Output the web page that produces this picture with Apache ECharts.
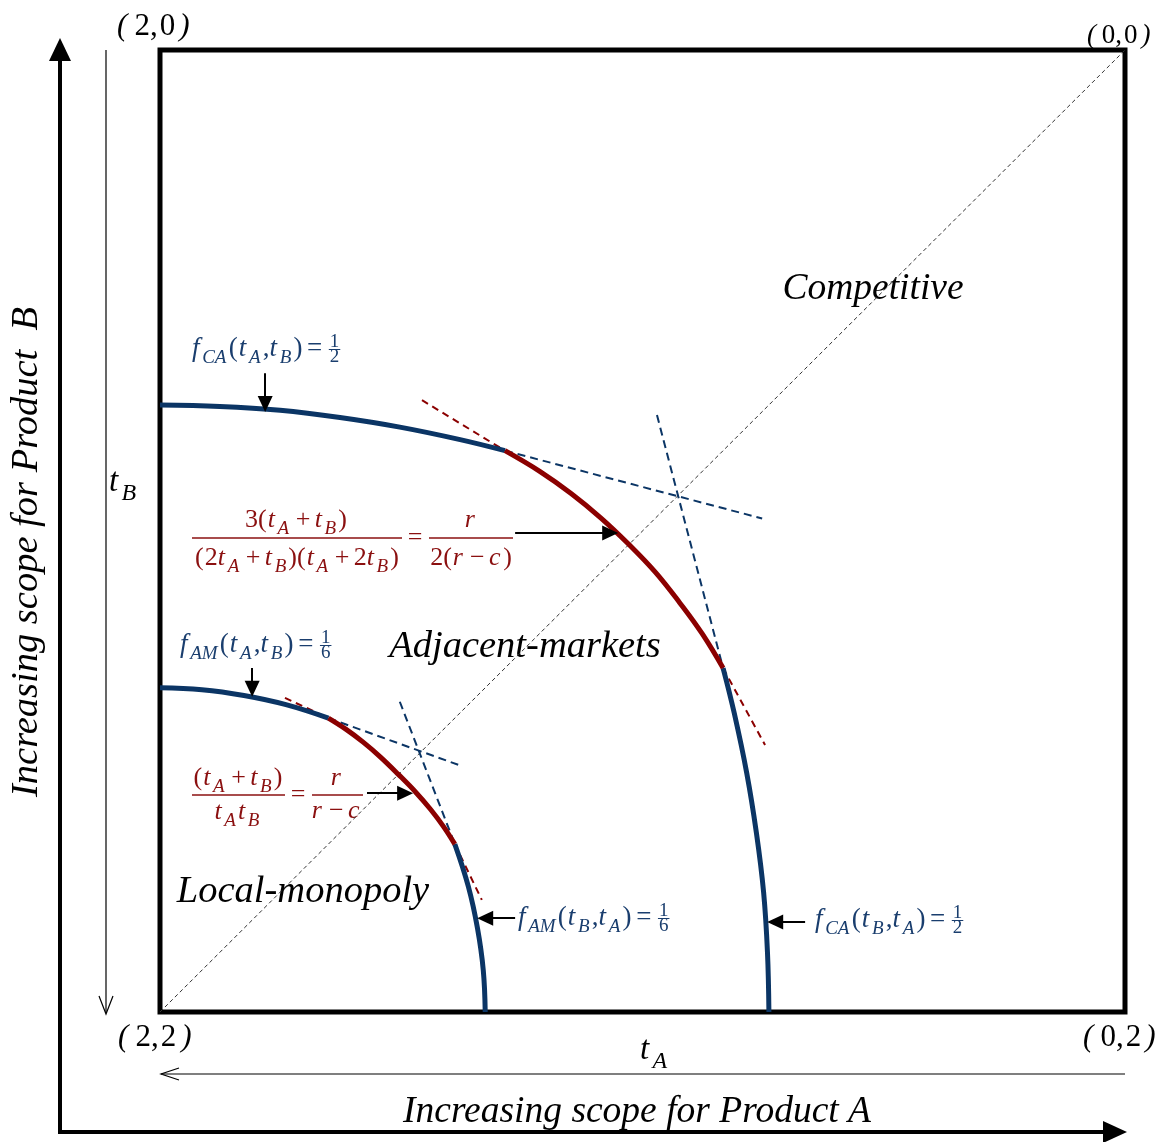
<!DOCTYPE html>
<html>
<head>
<meta charset="utf-8">
<script src="https://cdn.jsdelivr.net/npm/echarts@6/dist/echarts.min.js"></script>
<style>
  html, body { margin: 0; padding: 0; background: #fff; }
  #chart { width: 1171px; height: 1142px; }
</style>
</head>
<body>
<div id="chart"></div>
<script>
// curve points, in (tA, tB); tA runs 2 -> 0 left to right, tB 0 -> 2 top to bottom
var caUpperBlue = [[2.0, 0.738], [1.876, 0.741], [1.751, 0.749], [1.627, 0.764], [1.503, 0.784], [1.378, 0.810], [1.285, 0.833]];
var caRed = [[1.285, 0.833], [1.213, 0.876], [1.148, 0.922], [1.086, 0.973], [1.028, 1.028], [0.973, 1.086], [0.923, 1.149], [0.876, 1.214], [0.833, 1.285]];
var caLowerBlue = [[0.833, 1.285], [0.810, 1.378], [0.784, 1.503], [0.764, 1.627], [0.749, 1.751], [0.741, 1.876], [0.738, 2.0]];
var amUpperBlue = [[2.0, 1.326], [1.913, 1.330], [1.826, 1.342], [1.739, 1.361], [1.651, 1.389]];
var amRed = [[1.651, 1.389], [1.615, 1.412], [1.579, 1.439], [1.543, 1.470], [1.506, 1.506], [1.470, 1.543], [1.439, 1.579], [1.412, 1.615], [1.389, 1.651]];
var amLowerBlue = [[1.389, 1.651], [1.361, 1.739], [1.342, 1.826], [1.330, 1.913], [1.326, 2.0]];

// dashed tangents
var caRedDash = [[[1.457, 0.728], [1.285, 0.833]], [[0.833, 1.285], [0.746, 1.445]]];
var caBlueDash = [[[1.285, 0.833], [0.752, 0.974]], [[0.970, 0.759], [0.833, 1.285]]];
var amRedDash = [[[1.741, 1.347], [1.651, 1.389]], [[1.389, 1.651], [1.333, 1.767]]];
var amBlueDash = [[[1.651, 1.389], [1.382, 1.486]], [[1.503, 1.355], [1.389, 1.651]]];
var diagonal = [[2, 2], [0, 0]];

// label arrows [from, to]
var labelArrows = [
    [[1.782, 0.672], [1.782, 0.736]],
    [[1.264, 1.004], [1.067, 1.004]],
    [[1.809, 1.285], [1.809, 1.328]],
    [[1.571, 1.545], [1.492, 1.545]],
    [[1.264, 1.805], [1.326, 1.805]],
    [[0.663, 1.813], [0.725, 1.813]]
];

var BLUE = '#0b3565';
var BLUE_TXT = '#1a3e6e';
var RED = '#8b0000';
var RED_TXT = '#8b1010';
var FONT = '"Liberation Serif", "Times New Roman", serif';

var meas = document.createElement('canvas').getContext('2d');
function tw(t, size, it){
    meas.font = (it ? 'italic ' : '') + size + 'px ' + FONT;
    return meas.measureText(t).width;
}
function txt(x, base, t, size, it, color, align){
    return {
        type: 'text', x: x, y: base - 0.34 * size, silent: true,
        style: {
            text: t, font: (it ? 'italic ' : '') + size + 'px ' + FONT, fill: color,
            textAlign: align || 'left', align: align || 'left',
            textVerticalAlign: 'middle', verticalAlign: 'middle'
        }
    };
}
// token kinds: i italic, n normal, s italic subscript, o operator, g gap (px)
function layout(tokens, S){
    var x = 0, out = [];
    tokens.forEach(function(tk){
        var t = tk[0], k = tk[1], size = S, it = false, dy = 0, padL = 0, padR = 0;
        if(k === 'g'){ x += t; return; }
        if(k === 'i'){ it = true; padR = S * 0.1; }
        if(k === 's'){ it = true; size = Math.round(S * 0.72); dy = S * 0.24; padR = S * 0.08; }
        if(k === 'o'){ padL = padR = S * 0.17; }
        if(k === 'n' && t === '('){ padR = S * 0.04; }
        x += padL;
        out.push({t: t, size: size, it: it, dx: x, dy: dy});
        x += tw(t, size, it) + padR;
    });
    return {items: out, width: x};
}
function place(x, base, tokens, S, color, els){
    var L = layout(tokens, S);
    L.items.forEach(function(it){ els.push(txt(x + it.dx, base + it.dy, it.t, it.size, it.it, color)); });
    return x + L.width;
}
function placeC(cx, base, tokens, S, color, els){
    var L = layout(tokens, S);
    return place(cx - L.width / 2, base, tokens, S, color, els);
}
function hline(x1, x2, y, color, w, els){
    els.push({type: 'line', silent: true, shape: {x1: x1, y1: y, x2: x2, y2: y}, style: {stroke: color, lineWidth: w}});
}
function smallFrac(x, lineY, num, den, size, color, els){
    var w = Math.max(tw(num, size), tw(den, size));
    els.push(txt(x + w / 2, lineY - 1.5, num, size, false, color, 'center'));
    els.push(txt(x + w / 2, lineY + size * 0.72, den, size, false, color, 'center'));
    hline(x - 1, x + w + 1, lineY, color, 1, els);
}

var els = [];

// outer axes
els.push({type: 'line', silent: true, shape: {x1: 60, y1: 1134, x2: 60, y2: 56}, style: {stroke: '#000', lineWidth: 4}});
els.push({type: 'polygon', silent: true, shape: {points: [[49, 61], [71, 61], [60, 38]]}, style: {fill: '#000'}});
els.push({type: 'line', silent: true, shape: {x1: 58, y1: 1132, x2: 1106, y2: 1132}, style: {stroke: '#000', lineWidth: 4}});
els.push({type: 'polygon', silent: true, shape: {points: [[1103, 1121], [1103, 1143], [1127, 1132]]}, style: {fill: '#000'}});
els.push({type: 'line', silent: true, shape: {x1: 106, y1: 50, x2: 106, y2: 1013}, style: {stroke: '#000', lineWidth: 1.2}});
els.push({type: 'polyline', silent: true, shape: {points: [[99, 996], [106, 1014], [113, 996]]}, style: {stroke: '#000', lineWidth: 1.2, fill: null}});
els.push({type: 'line', silent: true, shape: {x1: 161, y1: 1074, x2: 1125, y2: 1074}, style: {stroke: '#000', lineWidth: 1.2}});
els.push({type: 'polyline', silent: true, shape: {points: [[179, 1068], [161, 1074], [179, 1080]]}, style: {stroke: '#000', lineWidth: 1.2, fill: null}});

// corner labels
function corner(x, base, a, b, S, g){
    place(x, base, [['(', 'i'], [g[0], 'g'], [a, 'n'], [',', 'n'], [g[1], 'g'], [b, 'n'], [g[2], 'g'], [')', 'i']], S, '#000', els);
}
corner(117, 37, '2', '0', 31, [4, 2, 4]);
corner(1087, 45, '0', '0', 27, [3, 2, 4]);
corner(118, 1048, '2', '2', 31, [4, 2, 5]);
corner(1083, 1048, '0', '2', 31, [4, 2, 4]);

// axis symbols
place(109, 494, [['t', 'i'], ['B', 's']], 33, '#000', els);
place(640, 1062, [['t', 'i'], ['A', 's']], 33, '#000', els);

// region and axis titles
els.push(txt(873, 302, 'Competitive', 37.5, true, '#000', 'center'));
els.push(txt(525, 660, 'Adjacent-markets', 38.5, true, '#000', 'center'));
els.push(txt(303, 905, 'Local-monopoly', 38.5, true, '#000', 'center'));
els.push(txt(637, 1125, 'Increasing scope for Product A', 37.5, true, '#000', 'center'));
els.push({
    type: 'text', x: 27, y: 552, rotation: Math.PI / 2, silent: true,
    style: {
        text: 'Increasing scope for Product  B', font: 'italic 38.5px ' + FONT, fill: '#000',
        textAlign: 'center', align: 'center', textVerticalAlign: 'middle', verticalAlign: 'middle'
    }
});

// f_CA(tA,tB) = 1/2
var x = place(192, 358, [['f', 'i'], ['CA', 's'], ['(', 'n'], ['t', 'i'], ['A', 's'], [',', 'n'], ['t', 'i'], ['B', 's'], [')', 'n'], ['=', 'o']], 27, BLUE_TXT, els);
smallFrac(x + 3, 349.5, '1', '2', 19, BLUE_TXT, els);

// f_AM(tA,tB) = 1/6
x = place(180, 654, [['f', 'i'], ['AM', 's'], ['(', 'n'], ['t', 'i'], ['A', 's'], [',', 'n'], ['t', 'i'], ['B', 's'], [')', 'n'], ['=', 'o']], 27, BLUE_TXT, els);
smallFrac(x + 3, 645.5, '1', '6', 19, BLUE_TXT, els);

// f_AM(tB,tA) = 1/6
x = place(518, 927, [['f', 'i'], ['AM', 's'], ['(', 'n'], ['t', 'i'], ['B', 's'], [',', 'n'], ['t', 'i'], ['A', 's'], [')', 'n'], ['=', 'o']], 27, BLUE_TXT, els);
smallFrac(x + 3, 918.5, '1', '6', 19, BLUE_TXT, els);

// f_CA(tB,tA) = 1/2
x = place(815, 929, [['f', 'i'], ['CA', 's'], ['(', 'n'], ['t', 'i'], ['B', 's'], [',', 'n'], ['t', 'i'], ['A', 's'], [')', 'n'], ['=', 'o']], 27, BLUE_TXT, els);
smallFrac(x + 3, 920.5, '1', '2', 19, BLUE_TXT, els);

// 3(tA+tB)/((2tA+tB)(tA+2tB)) = r/(2(r-c))
placeC(296, 529, [['3', 'n'], ['(', 'n'], ['t', 'i'], ['A', 's'], ['+', 'o'], ['t', 'i'], ['B', 's'], [')', 'n']], 26, RED_TXT, els);
hline(192, 402, 538, RED_TXT, 1.5, els);
placeC(297, 567, [['(', 'n'], ['2', 'n'], ['t', 'i'], ['A', 's'], ['+', 'o'], ['t', 'i'], ['B', 's'], [')', 'n'], ['(', 'n'], ['t', 'i'], ['A', 's'], ['+', 'o'], ['2', 'n'], ['t', 'i'], ['B', 's'], [')', 'n']], 26, RED_TXT, els);
els.push(txt(415, 547, '=', 26, false, RED_TXT, 'center'));
placeC(471, 529, [['r', 'i']], 26, RED_TXT, els);
hline(429, 513, 538, RED_TXT, 1.5, els);
placeC(471, 567, [['2', 'n'], ['(', 'n'], ['r', 'i'], ['\u2212', 'o'], ['c', 'i'], [')', 'n']], 26, RED_TXT, els);

// (tA+tB)/(tA tB) = r/(r-c)
placeC(238, 787, [['(', 'n'], ['t', 'i'], ['A', 's'], ['+', 'o'], ['t', 'i'], ['B', 's'], [')', 'n']], 26, RED_TXT, els);
hline(192, 285, 795, RED_TXT, 1.5, els);
placeC(238, 821, [['t', 'i'], ['A', 's'], ['t', 'i'], ['B', 's']], 26, RED_TXT, els);
els.push(txt(298, 804, '=', 26, false, RED_TXT, 'center'));
placeC(337, 787, [['r', 'i']], 26, RED_TXT, els);
hline(312, 363, 795, RED_TXT, 1.5, els);
placeC(337, 820, [['r', 'i'], ['\u2212', 'o'], ['c', 'i']], 26, RED_TXT, els);

function curve(data, color, width, dash, z){
    return {
        type: 'line', data: data, symbol: 'none', silent: true,
        smooth: dash ? false : 0.4,
        lineStyle: {color: color, width: width, type: dash || 'solid', cap: 'butt'},
        z: z
    };
}
var series = [];
series.push(curve(diagonal, '#333', 1, [4, 3], 1));
caBlueDash.concat(amBlueDash).forEach(function(d){ series.push(curve(d, BLUE, 2, [8, 5], 2)); });
caRedDash.concat(amRedDash).forEach(function(d){ series.push(curve(d, RED, 2, [7, 5], 2)); });
[caUpperBlue, caLowerBlue, amUpperBlue, amLowerBlue].forEach(function(d){ series.push(curve(d, BLUE, 5, null, 3)); });
[caRed, amRed].forEach(function(d){ series.push(curve(d, RED, 5, null, 4)); });
series.push({
    type: 'line', data: [], silent: true, z: 5,
    markLine: {
        silent: true, animation: false,
        symbol: ['none', 'triangle'], symbolSize: [15, 16],
        label: {show: false},
        lineStyle: {color: '#000', width: 2, type: 'solid'},
        data: labelArrows.map(function(a){ return [{coord: a[0]}, {coord: a[1]}]; })
    }
});

var chart = echarts.init(document.getElementById('chart'));
var option = {
    animation: false,
    backgroundColor: '#fff',
    grid: {left: 160, top: 50, width: 965, height: 962, show: true, borderColor: '#000', borderWidth: 5, backgroundColor: 'transparent'},
    xAxis: {type: 'value', min: 0, max: 2, inverse: true, show: false},
    yAxis: {type: 'value', min: 0, max: 2, inverse: true, show: false},
    series: series,
    graphic: {elements: els}
};
chart.setOption(option);
</script>
</body>
</html>
